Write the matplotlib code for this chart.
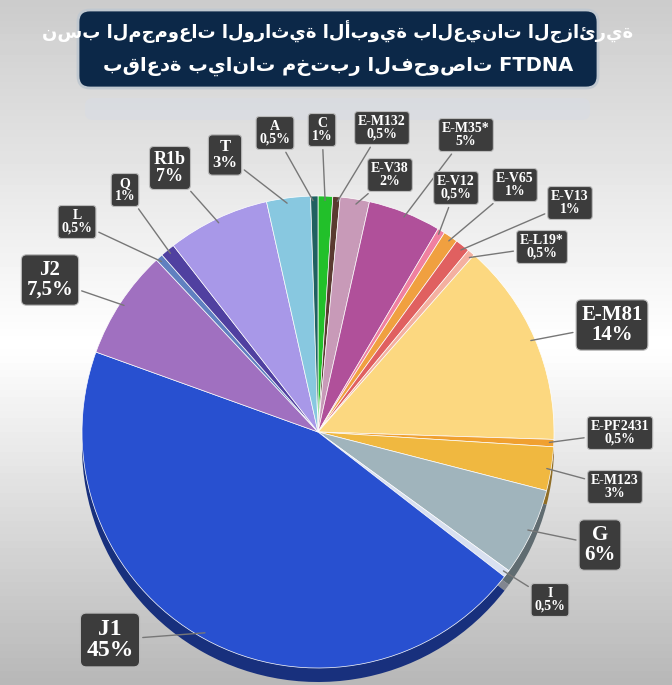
import numpy as np
import matplotlib.pyplot as plt
from matplotlib.patches import FancyBboxPatch

plt.rcParams['font.family'] = ['Liberation Serif', 'DejaVu Sans']

labels = ['C', 'E-M132', 'E-V38', 'E-M35*', 'E-V12', 'E-V65', 'E-V13', 'E-L19*',
          'E-M81', 'E-PF2431', 'E-M123', 'G', 'I', 'J1', 'J2', 'L', 'Q', 'R1b', 'T', 'A']
values = [1, 0.5, 2, 5, 0.5, 1, 1, 0.5, 14, 0.5, 3, 6, 0.5, 45, 7.5, 0.5, 1, 7, 3, 0.5]
pct_text = ['1%', '0,5%', '2%', '5%', '0,5%', '1%', '1%', '0,5%', '14%', '0,5%', '3%',
            '6%', '0,5%', '45%', '7,5%', '0,5%', '1%', '7%', '3%', '0,5%']
colors = ['#22c02a', '#5a3a30', '#c89ab8', '#b0509a', '#f080a0', '#f0a040', '#e06060',
          '#f4b0a0', '#fcd880', '#f0a030', '#f0b840', '#a0b4bc', '#d8e0f0', '#2850d0',
          '#a070c0', '#6080c0', '#5040a0', '#a898e8', '#88c8e0', '#206060']
# label box centres (pixels)
box_pos = [(322, 130), (382, 128), (390, 175), (466, 135), (456, 188), (515, 185),
           (570, 203), (542, 247), (612, 325), (620, 433), (615, 487), (600, 545),
           (550, 600), (110, 640), (50, 280), (77, 222), (125, 190), (170, 168),
           (225, 155), (275, 133)]
big = {'J1': 17, 'J2': 15, 'E-M81': 15, 'G': 15, 'R1b': 13, 'T': 12}

title_1 = 'نسب المجموعات الوراثية الأبوية بالعينات الجزائرية'
title_2 = 'بقاعدة بيانات مختبر الفحوصات FTDNA'

fig = plt.figure(figsize=(6.72, 6.85), dpi=100)
ax = fig.add_axes([0, 0, 1, 1])
grad = np.concatenate([np.linspace(0.80, 1.0, 50), np.linspace(1.0, 0.72, 50)])
ax.imshow(grad[:, None], cmap='gray', vmin=0, vmax=1, extent=[0, 672, 685, 0], aspect='auto')

cx, cy, r = 318, 432, 236
dark = [tuple(0.6 * np.array(plt.matplotlib.colors.to_rgb(c))) for c in colors]
ax.pie(values, colors=dark, startangle=-90, center=(cx, cy + 14), radius=r,
       wedgeprops=dict(linewidth=0))
wedges, _ = ax.pie(values, colors=colors, startangle=-90, center=(cx, cy), radius=r,
                   wedgeprops=dict(linewidth=0.5, edgecolor='white'))
ax.set_aspect('auto')
ax.set_xlim(0, 672)
ax.set_ylim(685, 0)
ax.axis('off')

for w, lab, pc, (bx, by) in zip(wedges, labels, pct_text, box_pos):
    ang = np.deg2rad((w.theta1 + w.theta2) / 2)
    px, py = cx + r * 0.97 * np.cos(ang), cy + r * 0.97 * np.sin(ang)
    fs = big.get(lab, 10)
    ax.annotate(lab + '\n' + pc, xy=(px, py), xytext=(bx, by), ha='center', va='center',
                color='white', fontsize=fs, fontweight='bold', linespacing=1.0,
                bbox=dict(boxstyle='round,pad=0.25', fc='#3c3c3c', ec='#bbbbbb', lw=0.8),
                arrowprops=dict(arrowstyle='-', color='#777777', lw=1))

ax.add_patch(FancyBboxPatch((78, 10), 520, 78, boxstyle='round,pad=0,rounding_size=12',
                            fc='#0c2848', ec='#c0c8d0', lw=2))
ax.add_patch(FancyBboxPatch((85, 98), 505, 22, boxstyle='round,pad=0,rounding_size=8',
                            fc='#d8dce4', ec='none', alpha=0.6))
ax.text(338, 32, title_1, ha='center', va='center', color='white',
        fontsize=13, fontweight='bold', family=['DejaVu Sans'])
ax.text(338, 66, title_2, ha='center', va='center', color='white',
        fontsize=14, fontweight='bold', family=['DejaVu Sans'])

fig.savefig('out.png', dpi=100)
